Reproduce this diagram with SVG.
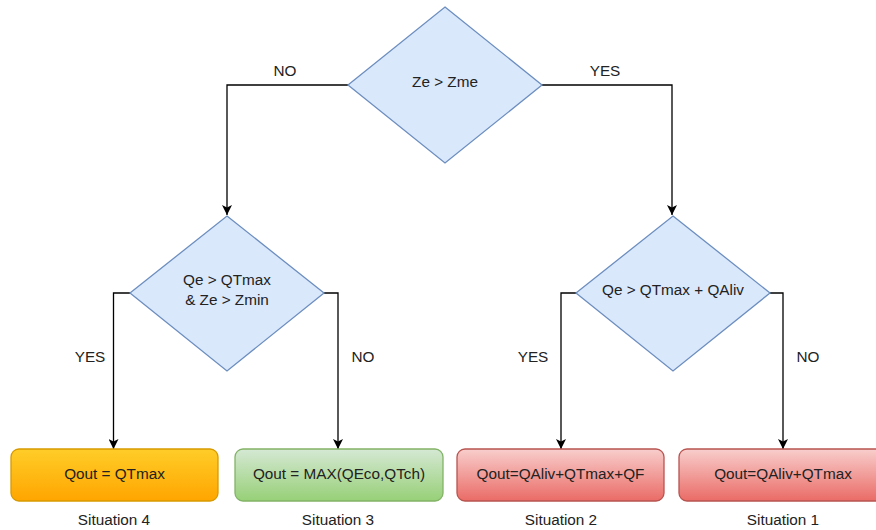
<svg xmlns="http://www.w3.org/2000/svg" width="876" height="530" viewBox="0 0 876 530">
<defs>
<linearGradient id="gOrange" x1="0" y1="0" x2="0" y2="1"><stop offset="0" stop-color="#ffcd28"/><stop offset="1" stop-color="#ffa500"/></linearGradient>
<linearGradient id="gGreen" x1="0" y1="0" x2="0" y2="1"><stop offset="0" stop-color="#d5e8d4"/><stop offset="1" stop-color="#97d077"/></linearGradient>
<linearGradient id="gRed" x1="0" y1="0" x2="0" y2="1"><stop offset="0" stop-color="#f8cecc"/><stop offset="1" stop-color="#ea6b66"/></linearGradient>
<marker id="arrow" viewBox="0 0 10 10" refX="10" refY="5" markerWidth="10" markerHeight="10" markerUnits="userSpaceOnUse" orient="auto">
<path d="M0,0 L10,5 L0,10 L2.5,5 Z" fill="#000"/>
</marker>
<style>
text{font-family:"Liberation Sans",Arial,sans-serif;font-size:15.3px;fill:#222;text-anchor:middle;}
.dia{fill:#dae8fc;stroke:#6c8ebf;stroke-width:1.3;}
.edge{fill:none;stroke:#000;stroke-width:1.3;marker-end:url(#arrow);}
</style>
</defs>
<g id="connectors">
<path class="edge" d="M348,85 H227 V215"/>
<path class="edge" d="M542,85 H672 V215"/>
<path class="edge" d="M130,293 H113.5 V449"/>
<path class="edge" d="M324,293 H338 V449"/>
<path class="edge" d="M576,293 H561 V449"/>
<path class="edge" d="M770,293 H783 V449"/>
<text x="285" y="76">NO</text>
<text x="605" y="76">YES</text>
<text x="90" y="362">YES</text>
<text x="363" y="362">NO</text>
<text x="533" y="362">YES</text>
<text x="808" y="362">NO</text>
</g>
<g id="d1">
<polygon class="dia" points="445,7 542,85 445,163 348,85"/>
<text x="445" y="87">Ze &gt; Zme</text>
</g>
<g id="d2">
<polygon class="dia" points="227,216 324,293 227,371 130,293"/>
<text x="227" y="285">Qe &gt; QTmax</text>
<text x="227" y="305">&amp; Ze &gt; Zmin</text>
</g>
<g id="d3">
<polygon class="dia" points="673,216 770,293 673,371 576,293"/>
<text x="673" y="295">Qe &gt; QTmax + QAliv</text>
</g>
<g id="s4">
<rect x="11" y="449" width="207" height="52" rx="8" fill="url(#gOrange)" stroke="#d79b00" stroke-width="1.3"/>
<text x="114.5" y="479">Qout = QTmax</text>
<text x="114" y="525">Situation 4</text>
</g>
<g id="s3">
<rect x="235" y="449" width="208" height="52" rx="8" fill="url(#gGreen)" stroke="#82b366" stroke-width="1.3"/>
<text x="339" y="479">Qout = MAX(QEco,QTch)</text>
<text x="338" y="525">Situation 3</text>
</g>
<g id="s2">
<rect x="457" y="449" width="207" height="52" rx="8" fill="url(#gRed)" stroke="#b85450" stroke-width="1.3"/>
<text x="560.5" y="479">Qout=QAliv+QTmax+QF</text>
<text x="561" y="525">Situation 2</text>
</g>
<g id="s1">
<rect x="679" y="449" width="207" height="52" rx="8" fill="url(#gRed)" stroke="#b85450" stroke-width="1.3"/>
<text x="783" y="479">Qout=QAliv+QTmax</text>
<text x="783" y="525">Situation 1</text>
</g>
</svg>
